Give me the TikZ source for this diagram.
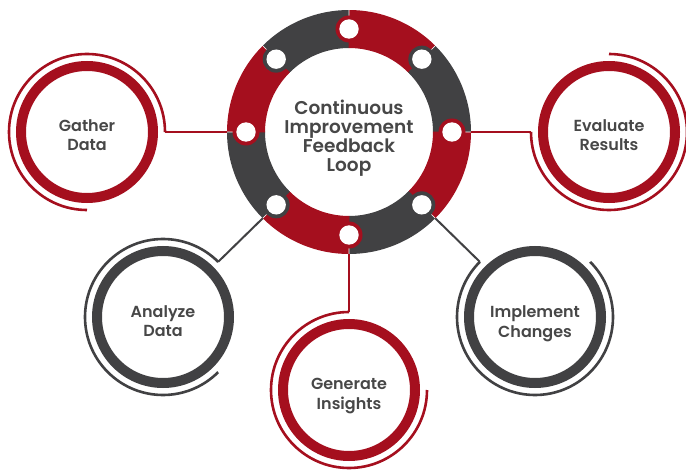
\documentclass[tikz,border=0pt]{standalone}
\usepackage{fontspec}
\setmainfont[UprightFont={* SemiBold}]{Poppins}
\definecolor{cred}{HTML}{A50F1E}
\definecolor{cdark}{HTML}{414143}
\definecolor{ctext}{HTML}{474747}
\begin{document}
\begin{tikzpicture}[x=1pt,y=1pt,
  outerc/.style={circle, minimum size=156, inner sep=0, outer sep=0},
  outert/.style={align=center, text=ctext, inner sep=0, font=\fontsize{16}{19.5}\selectfont},
  thickring/.style={line width=10},
  thinarc/.style={line width=2.6},
  conn/.style={line width=2}]
\useasboundingbox (0,0) rectangle (686,475);
\coordinate (C) at (349,343);
\node[circle, minimum size=244, inner sep=0, outer sep=0] (ring) at (C) {};
% outer circles
\node[outerc] (gather) at (87,343) {};
\node[outerc] (eval) at (609,343) {};
\node[outerc] (analyze) at (163,158) {};
\node[outerc] (impl) at (535,158) {};
\node[outerc] (gen) at (349,85) {};
\node[outert] (gatherT) at ([yshift=-3]gather.center) {Gather\\Data};
\node[outert] (evalT) at ([yshift=-3]eval.center) {Evaluate\\Results};
\node[outert] (analyzeT) at ([yshift=-4]analyze.center) {Analyze\\Data};
\node[outert] (implT) at ([yshift=-7]impl.center) {Implement\\Changes};
\node[outert] (genT) at ([yshift=-6]gen.center) {Generate\\Insights};
% connectors
\draw[cred, conn] (ring.180) -- (gather.0);
\draw[cred, conn] (ring.0) -- (eval.180);
\draw[cdark, conn] (ring.225) -- (analyze.45);
\draw[cdark, conn] (ring.-45) -- (impl.135);
\draw[cred, conn] (ring.-90) -- (gen.90);
% thick rings
\draw[cred, thickring] (gather.center) circle[radius=66];
\draw[cred, thickring] (eval.center) circle[radius=66];
\draw[cdark, thickring] (analyze.center) circle[radius=66];
\draw[cdark, thickring] (impl.center) circle[radius=66];
\draw[cred, thickring] (gen.center) circle[radius=66];
% thin arcs
\draw[cred, thinarc] (gather.0) arc[start angle=0, end angle=270, radius=78];
\draw[cred, thinarc] (eval.180) arc[start angle=180, end angle=450, radius=78];
\draw[cdark, thinarc] (analyze.45) arc[start angle=45, end angle=315, radius=78];
\draw[cdark, thinarc] (impl.135) arc[start angle=135, end angle=405, radius=78];
\draw[cred, thinarc] (gen.90) arc[start angle=90, end angle=360, radius=78];
% central ring segments
\foreach \a/\c in {90/cdark,45/cred,0/cdark,-45/cred,-90/cdark,-135/cred,-180/cdark,135/cred}
  \draw[\c, line width=38] ([shift={(\a:103)}]C) arc[start angle=\a, end angle=\a+45, radius=103];
% knobs
\foreach \a/\c in {90/cdark,45/cred,0/cdark,-45/cred,-90/cdark,-135/cred,-180/cdark,135/cred}{
  \fill[\c] ([shift={({\a+45}:103)}]C) circle[radius=13.5];
  \fill[white] ([shift={({\a+45}:103)}]C) circle[radius=9.7];
}
\node[text=ctext, align=center, inner sep=0, font=\fontsize{18.5}{19}\selectfont] (title) at (349,337) {Continuous\\Improvement\\Feedback\\Loop};
\end{tikzpicture}
\end{document}
